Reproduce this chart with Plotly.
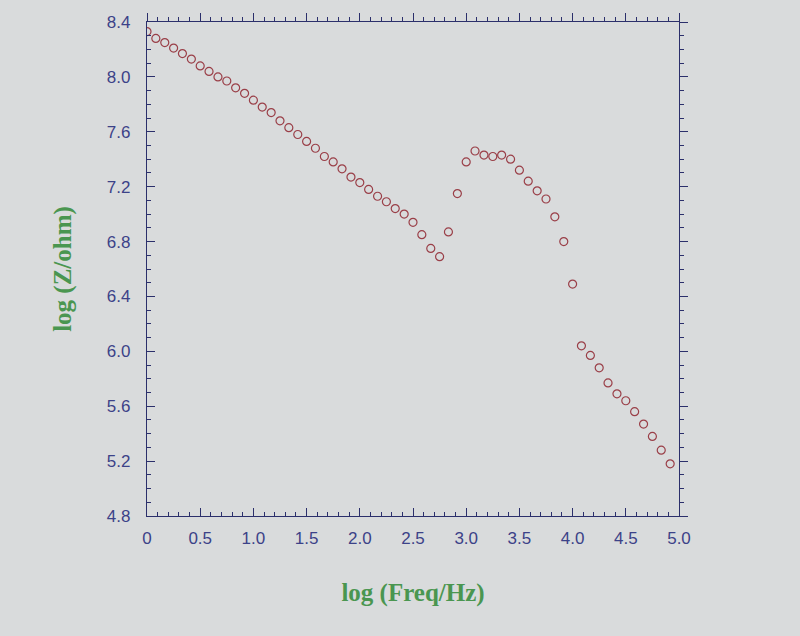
import plotly.graph_objects as go

# log frequency (Hz) values of the measured points
log_freq = [0.000, 0.083, 0.167, 0.250, 0.333, 0.417, 0.500, 0.583, 0.667, 0.750,
            0.833, 0.917, 1.000, 1.083, 1.167, 1.250, 1.333, 1.417, 1.500, 1.583,
            1.667, 1.750, 1.833, 1.917, 2.000, 2.083, 2.167, 2.250, 2.333, 2.417,
            2.500, 2.583, 2.667, 2.750, 2.833, 2.917, 3.000, 3.083, 3.167, 3.250,
            3.333, 3.417, 3.500, 3.583, 3.667, 3.750, 3.833, 3.917, 4.000, 4.083,
            4.167, 4.250, 4.333, 4.417, 4.500, 4.583, 4.667, 4.750, 4.833, 4.917]

# log impedance (ohm)
log_z = [8.33, 8.28, 8.25, 8.21, 8.17, 8.13, 8.08, 8.04, 8.00, 7.97,
         7.92, 7.88, 7.83, 7.78, 7.74, 7.68, 7.63, 7.58, 7.53, 7.48,
         7.42, 7.38, 7.33, 7.27, 7.23, 7.18, 7.13, 7.09, 7.04, 7.00,
         6.94, 6.85, 6.75, 6.69, 6.87, 7.15, 7.38, 7.46, 7.43, 7.42,
         7.43, 7.40, 7.32, 7.24, 7.17, 7.11, 6.98, 6.80, 6.49, 6.04,
         5.97, 5.88, 5.77, 5.69, 5.64, 5.56, 5.47, 5.38, 5.28, 5.18]

x_tick_vals = [0, 0.5, 1.0, 1.5, 2.0, 2.5, 3.0, 3.5, 4.0, 4.5, 5.0]
x_tick_text = ["0", "0.5", "1.0", "1.5", "2.0", "2.5", "3.0", "3.5", "4.0", "4.5", "5.0"]
y_tick_vals = [4.8, 5.2, 5.6, 6.0, 6.4, 6.8, 7.2, 7.6, 8.0, 8.4]
y_tick_text = ["4.8", "5.2", "5.6", "6.0", "6.4", "6.8", "7.2", "7.6", "8.0", "8.4"]

axis_col = "#2b2f6b"
label_col = "#3c4288"
title_col = "#4a9650"
bg_col = "#d9dbdc"

fig = go.Figure()
fig.add_trace(go.Scatter(
    x=log_freq, y=log_z, mode="markers",
    marker=dict(symbol="circle-open", size=8, color="#9a3f48", line=dict(width=1.2)),
    showlegend=False,
))
# invisible trace to activate secondary axes
fig.add_trace(go.Scatter(x=[None], y=[None], xaxis="x2", yaxis="y2", showlegend=False))

common = dict(showgrid=False, zeroline=False, showline=True, linecolor=axis_col, linewidth=1.2)

fig.update_layout(
    width=800, height=636,
    paper_bgcolor=bg_col, plot_bgcolor=bg_col,
    margin=dict(l=147, r=121, t=22, b=120),
    font=dict(family="Liberation Sans, Arial, sans-serif"),
    xaxis=dict(range=[0, 5], tickvals=x_tick_vals, ticktext=x_tick_text,
               ticks="inside", ticklen=8, tickcolor=axis_col,
               minor=dict(dtick=0.1, ticks="inside", ticklen=4, tickcolor=axis_col),
               tickfont=dict(size=17, color=label_col), ticklabelstandoff=6,
               title=dict(text="log (Freq/Hz)", standoff=36,
                          font=dict(family="Liberation Serif, Times New Roman, serif",
                                    size=25, color=title_col, weight="bold")),
               **common),
    yaxis=dict(range=[4.8, 8.4], tickvals=y_tick_vals, ticktext=y_tick_text,
               ticks="inside", ticklen=8, tickcolor=axis_col,
               minor=dict(dtick=0.1, ticks="inside", ticklen=4, tickcolor=axis_col),
               tickfont=dict(size=17, color=label_col), ticklabelstandoff=12,
               title=dict(text="log (Z/ohm)", standoff=28,
                          font=dict(family="Liberation Serif, Times New Roman, serif",
                                    size=25, color=title_col, weight="bold")),
               **common),
    xaxis2=dict(range=[0, 5], overlaying="x", side="top", anchor="y",
                tickvals=x_tick_vals, showticklabels=False,
                ticks="outside", ticklen=8, tickcolor=axis_col,
                minor=dict(dtick=0.1, ticks="outside", ticklen=4, tickcolor=axis_col),
                **common),
    yaxis2=dict(range=[4.8, 8.4], overlaying="y", side="right", anchor="x",
                tickvals=y_tick_vals, showticklabels=False,
                ticks="outside", ticklen=8, tickcolor=axis_col,
                minor=dict(dtick=0.1, ticks="outside", ticklen=4, tickcolor=axis_col),
                **common),
)

fig.write_html(
    "out.html",
    config={"displayModeBar": False},
    post_script="document.body.style.margin='0';document.body.style.background='%s';" % bg_col,
)
